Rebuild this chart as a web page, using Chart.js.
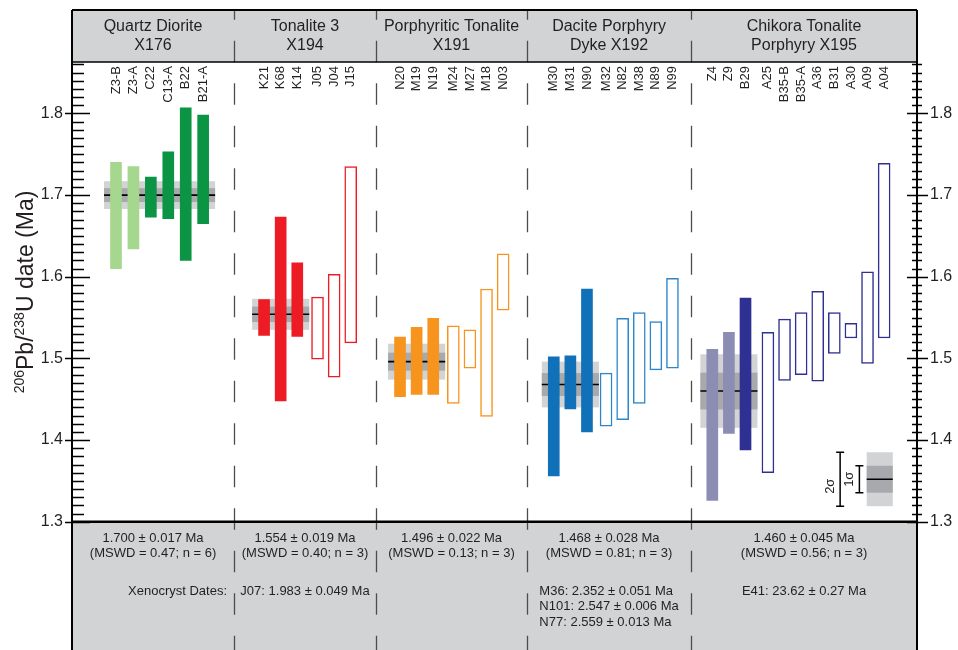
<!DOCTYPE html>
<html>
<head>
<meta charset="utf-8">
<script src="https://cdn.jsdelivr.net/npm/chart.js@4.4.1/dist/chart.umd.min.js"></script>
<style>
  html, body { margin: 0; padding: 0; background: #fff; }
  #wrap { width: 958px; height: 650px; }
</style>
</head>
<body>
<div id="wrap"><canvas id="c" width="958" height="650"></canvas></div>
<script>
// Zircon 206Pb/238U dates (Ma) by sample, with weighted means and xenocrysts

const panelTitles = [
  ['Quartz Diorite', 'X176'],
  ['Tonalite 3', 'X194'],
  ['Porphyritic Tonalite', 'X191'],
  ['Dacite Porphyry', 'Dyke X192'],
  ['Chikora Tonalite', 'Porphyry X195']
];

const grainLabels = [
  ['Z3-B', 'Z3-A', 'C22', 'C13-A', 'B22', 'B21-A'],
  ['K21', 'K68', 'K14', 'J05', 'J04', 'J15'],
  ['N20', 'M19', 'N19', 'M24', 'M27', 'M18', 'N03'],
  ['M30', 'M31', 'N90', 'M32', 'N82', 'M38', 'N89', 'N99'],
  ['Z4', 'Z9', 'B29', 'A25', 'B35-B', 'B35-A', 'A36', 'B31', 'A30', 'A09', 'A04']
];

// lower and upper ends of each 2-sigma date bar
const grainLow = [
  [1.610, 1.634, 1.673, 1.671, 1.620, 1.665],
  [1.528, 1.448, 1.527, 1.499, 1.477, 1.519],
  [1.453, 1.456, 1.456, 1.445, 1.488, 1.429, 1.559],
  [1.356, 1.438, 1.410, 1.417, 1.425, 1.445, 1.486, 1.488],
  [1.326, 1.408, 1.388, 1.360, 1.473, 1.480, 1.472, 1.506, 1.525, 1.494, 1.525]
];
const grainHigh = [
  [1.740, 1.735, 1.722, 1.753, 1.807, 1.798],
  [1.572, 1.673, 1.617, 1.575, 1.603, 1.735],
  [1.526, 1.538, 1.549, 1.540, 1.535, 1.585, 1.628],
  [1.502, 1.503, 1.585, 1.482, 1.549, 1.556, 1.545, 1.598],
  [1.511, 1.532, 1.574, 1.532, 1.548, 1.556, 1.582, 1.556, 1.543, 1.606, 1.739]
];

// A = used in weighted mean, B = used in weighted mean (second shade), C = not used
const grainKind = [
  ['B', 'B', 'A', 'A', 'A', 'A'],
  ['A', 'A', 'A', 'C', 'C', 'C'],
  ['A', 'A', 'A', 'C', 'C', 'C', 'C'],
  ['A', 'A', 'A', 'C', 'C', 'C', 'C', 'C'],
  ['B', 'B', 'A', 'C', 'C', 'C', 'C', 'C', 'C', 'C', 'C']
];

const meanAge = [1.700, 1.554, 1.496, 1.468, 1.460];
const meanErr2s = [0.017, 0.019, 0.022, 0.028, 0.045];
const meanMswd = [0.47, 0.40, 0.13, 0.81, 0.56];
const meanN = [6, 3, 3, 3, 3];

const xenoNames = [[], ['J07'], [], ['M36', 'N101', 'N77'], ['E41']];
const xenoAges = [[], [1.983], [], [2.352, 2.547, 2.559], [23.62]];
const xenoErrs = [[], [0.049], [], [0.051, 0.006, 0.013], [0.27]];

const yTicks = [1.3, 1.4, 1.5, 1.6, 1.7, 1.8];

// error key in the lower right corner
const keyAge = 1.352;
const keyErr2s = 0.033;

// ---- layout and styling ----
const FONT = '"Liberation Sans", Arial, Helvetica, sans-serif';
const INK = '#231f20';
const PANEL_GREY = '#d1d3d4';
const BAND_2S = '#d1d3d4';
const BAND_1S = '#a7a9ac';

const panelColors = [
  { A: '#0b9444', B: '#a6d78e', C: '#0b9444' },
  { A: '#ed1c24', B: '#ed1c24', C: '#ed1c24' },
  { A: '#f7941d', B: '#f7941d', C: '#f7941d' },
  { A: '#1070b8', B: '#1070b8', C: '#2b86cc' },
  { A: '#2e3192', B: '#8b8db3', C: '#2e3192' }
];

const LAYOUT = {
  xMax: 50.9,
  yMin: 1.3,
  yMax: 1.863,
  headerTop: 10,
  panelEdges: [0, 9.76, 18.31, 27.41, 37.29, 50.9],
  firstSlot: [2.65, 11.57, 19.76, 29.02, 38.57],
  slotStep: [1.05, 1, 1, 1, 1],
  openGap: [0, 0.22, 0.21, 0.15, 0.35],
  bandPad: 0.72,
  key: { boxL: 47.87, boxR: 49.44, bar2: 46.27, bar1: 47.43, lab2: 45.69, lab1: 46.81 }
};

function slotOf(p, j) {
  let s = LAYOUT.firstSlot[p] + j * LAYOUT.slotStep[p];
  if (grainKind[p][j] === 'C') s += LAYOUT.openGap[p];
  return s;
}

const filledPts = [], filledCols = [], openPts = [], openCols = [];
grainLabels.forEach((labels, p) => {
  labels.forEach((lab, j) => {
    const pt = { x: slotOf(p, j), y: [grainLow[p][j], grainHigh[p][j]] };
    const k = grainKind[p][j];
    if (k === 'C') { openPts.push(pt); openCols.push(panelColors[p].C); }
    else { filledPts.push(pt); filledCols.push(panelColors[p][k]); }
  });
});

function fontPx(size) { return size + 'px ' + FONT; }

const figurePlugin = {
  id: 'figureFrame',
  beforeDraw(chart) {
    const { ctx, chartArea: a, width, height } = chart;
    const xs = chart.scales.x;
    ctx.save();
    ctx.fillStyle = '#fff';
    ctx.fillRect(0, 0, width, height);
    // header and footer strips
    ctx.fillStyle = PANEL_GREY;
    ctx.fillRect(a.left, LAYOUT.headerTop, a.right - a.left, a.top - LAYOUT.headerTop);
    ctx.fillRect(a.left, a.bottom, a.right - a.left, height - a.bottom);
    // dashed separators between samples
    ctx.strokeStyle = '#4d4d4d';
    ctx.lineWidth = 1.3;
    ctx.setLineDash([21.5, 21]);
    ctx.lineDashOffset = LAYOUT.headerTop + 1.7;
    for (let i = 1; i < LAYOUT.panelEdges.length - 1; i++) {
      const x = Math.round(xs.getPixelForValue(LAYOUT.panelEdges[i])) + 0.5;
      ctx.beginPath();
      ctx.moveTo(x, LAYOUT.headerTop);
      ctx.lineTo(x, height);
      ctx.stroke();
    }
    ctx.restore();
  },
  beforeDatasetsDraw(chart) {
    const { ctx } = chart;
    const xs = chart.scales.x, ys = chart.scales.y;
    ctx.save();
    meanAge.forEach((age, p) => {
      const slots = grainKind[p].map((k, j) => k === 'C' ? null : slotOf(p, j)).filter(s => s !== null);
      const x0 = xs.getPixelForValue(Math.min(...slots) - LAYOUT.bandPad);
      const x1 = xs.getPixelForValue(Math.max(...slots) + LAYOUT.bandPad);
      const e = meanErr2s[p];
      ctx.fillStyle = BAND_2S;
      const t2 = ys.getPixelForValue(age + e), b2 = ys.getPixelForValue(age - e);
      ctx.fillRect(x0, t2, x1 - x0, b2 - t2);
      ctx.fillStyle = BAND_1S;
      const t1 = ys.getPixelForValue(age + e / 2), b1 = ys.getPixelForValue(age - e / 2);
      ctx.fillRect(x0, t1, x1 - x0, b1 - t1);
      ctx.strokeStyle = '#000';
      ctx.lineWidth = 1.6;
      const ym = ys.getPixelForValue(age);
      ctx.beginPath();
      ctx.moveTo(x0, ym);
      ctx.lineTo(x1, ym);
      ctx.stroke();
    });
    ctx.restore();
  },
  afterDraw(chart) {
    const { ctx, chartArea: a, height } = chart;
    const xs = chart.scales.x, ys = chart.scales.y;
    const E = LAYOUT.panelEdges;
    const centerOf = p => xs.getPixelForValue((E[p] + E[p + 1]) / 2);
    ctx.save();

    // frame
    ctx.strokeStyle = '#000';
    ctx.lineWidth = 2;
    ctx.beginPath();
    ctx.moveTo(a.left, LAYOUT.headerTop); ctx.lineTo(a.right, LAYOUT.headerTop);
    ctx.moveTo(a.left, LAYOUT.headerTop); ctx.lineTo(a.left, height);
    ctx.moveTo(a.right, LAYOUT.headerTop); ctx.lineTo(a.right, height);
    ctx.stroke();
    ctx.lineWidth = 1.5;
    ctx.beginPath();
    ctx.moveTo(a.left, a.top); ctx.lineTo(a.right, a.top);
    ctx.stroke();
    ctx.lineWidth = 2.6;
    ctx.beginPath();
    ctx.moveTo(a.left, a.bottom); ctx.lineTo(a.right, a.bottom);
    ctx.stroke();

    // tick marks, every 0.01 with longer marks every 0.1
    ctx.lineWidth = 1.3;
    ctx.beginPath();
    for (let i = Math.round(LAYOUT.yMin * 100); i <= Math.floor(LAYOUT.yMax * 100); i++) {
      const y = Math.round(ys.getPixelForValue(i / 100)) + 0.5;
      const major = i % 10 === 0;
      if (major) {
        ctx.moveTo(a.left - 7, y); ctx.lineTo(a.left + 18, y);
        ctx.moveTo(a.right - 10, y); ctx.lineTo(a.right + 11, y);
      } else {
        ctx.moveTo(a.left, y); ctx.lineTo(a.left + 12, y);
        ctx.moveTo(a.right - 5, y); ctx.lineTo(a.right + 5, y);
      }
    }
    ctx.stroke();

    // sample titles
    ctx.fillStyle = INK;
    ctx.font = fontPx(16);
    ctx.textAlign = 'center';
    ctx.textBaseline = 'alphabetic';
    panelTitles.forEach((lines, p) => {
      const cx = centerOf(p);
      ctx.fillText(lines[0], cx, 31);
      ctx.fillText(lines[1], cx, 50);
    });

    // grain labels
    ctx.font = fontPx(13);
    grainLabels.forEach((labels, p) => {
      labels.forEach((lab, j) => {
        const x = xs.getPixelForValue(slotOf(p, j));
        ctx.save();
        ctx.translate(x, a.top + 4);
        ctx.rotate(-Math.PI / 2);
        ctx.textAlign = 'right';
        ctx.textBaseline = 'middle';
        ctx.fillText(lab, 0, 0);
        ctx.restore();
      });
    });

    // weighted mean summaries
    ctx.font = fontPx(13);
    ctx.textBaseline = 'middle';
    ctx.textAlign = 'center';
    meanAge.forEach((age, p) => {
      const cx = centerOf(p);
      ctx.fillText(age.toFixed(3) + ' \u00b1 ' + meanErr2s[p].toFixed(3) + ' Ma', cx, a.bottom + 16.5);
      ctx.fillText('(MSWD = ' + meanMswd[p].toFixed(2) + '; n = ' + meanN[p] + ')', cx, a.bottom + 31.5);
    });

    // xenocryst dates
    ctx.textAlign = 'right';
    ctx.fillText('Xenocryst Dates:', xs.getPixelForValue(E[1]) - 7, a.bottom + 69.5);
    ctx.textAlign = 'left';
    xenoNames.forEach((names, p) => {
      if (!names.length) return;
      const lines = names.map((n, i) => {
        const ageTxt = xenoAges[p][i].toPrecision(4);
        const dec = (ageTxt.split('.')[1] || '').length;
        return n + ': ' + ageTxt + ' \u00b1 ' + xenoErrs[p][i].toFixed(dec) + ' Ma';
      });
      const w = Math.max(...lines.map(l => ctx.measureText(l).width));
      const x0 = centerOf(p) - w / 2;
      lines.forEach((l, i) => ctx.fillText(l, x0, a.bottom + 69.5 + i * 15.5));
    });

    // y-axis title with superscript mass numbers
    ctx.save();
    ctx.translate(33, 292);
    ctx.rotate(-Math.PI / 2);
    const parts = [['206', true], ['Pb/', false], ['238', true], ['U date (Ma)', false]];
    const mainF = fontPx(23), supF = fontPx(14);
    let total = 0;
    const widths = parts.map(([t, sup]) => { ctx.font = sup ? supF : mainF; const w = ctx.measureText(t).width; total += w; return w; });
    let tx = -total / 2;
    ctx.textAlign = 'left';
    ctx.textBaseline = 'alphabetic';
    parts.forEach(([t, sup], i) => {
      ctx.font = sup ? supF : mainF;
      ctx.fillText(t, tx, sup ? -9 : 0);
      tx += widths[i];
    });
    ctx.restore();

    // error key
    const K = LAYOUT.key;
    const kl = xs.getPixelForValue(K.boxL), kr = xs.getPixelForValue(K.boxR);
    const y2t = ys.getPixelForValue(keyAge + keyErr2s), y2b = ys.getPixelForValue(keyAge - keyErr2s);
    const y1t = ys.getPixelForValue(keyAge + keyErr2s / 2), y1b = ys.getPixelForValue(keyAge - keyErr2s / 2);
    const ym = ys.getPixelForValue(keyAge);
    ctx.fillStyle = BAND_2S;
    ctx.fillRect(kl, y2t, kr - kl, y2b - y2t);
    ctx.fillStyle = BAND_1S;
    ctx.fillRect(kl, y1t, kr - kl, y1b - y1t);
    ctx.strokeStyle = '#000';
    ctx.lineWidth = 1.5;
    ctx.beginPath();
    ctx.moveTo(kl, ym); ctx.lineTo(kr, ym);
    const bar = (x, t, b) => {
      ctx.moveTo(x, t); ctx.lineTo(x, b);
      ctx.moveTo(x - 4, t); ctx.lineTo(x + 4, t);
      ctx.moveTo(x - 4, b); ctx.lineTo(x + 4, b);
    };
    bar(xs.getPixelForValue(K.bar2), y2t, y2b);
    bar(xs.getPixelForValue(K.bar1), y1t, y1b);
    ctx.stroke();
    ctx.fillStyle = INK;
    ctx.font = fontPx(13);
    ctx.textAlign = 'center';
    ctx.textBaseline = 'middle';
    [[K.lab2, '2\u03c3', (y2t + y2b) / 2 + 7], [K.lab1, '1\u03c3', ym]].forEach(([u, t, yc]) => {
      ctx.save();
      ctx.translate(xs.getPixelForValue(u), yc);
      ctx.rotate(-Math.PI / 2);
      ctx.fillText(t, 0, 0);
      ctx.restore();
    });

    ctx.restore();
  }
};

const tickFont = { family: FONT, size: 16 };
const yAxis = (position, width, padding) => ({
  type: 'linear',
  position,
  min: LAYOUT.yMin,
  max: LAYOUT.yMax,
  afterFit: s => { s.width = width; },
  afterBuildTicks: s => { s.ticks = yTicks.map(v => ({ value: v })); },
  grid: { display: false, drawTicks: false },
  border: { display: false },
  ticks: { padding, font: tickFont, color: INK, callback: v => Number(v).toFixed(1) }
});

new Chart(document.getElementById('c'), {
  type: 'bar',
  data: {
    datasets: [
      {
        label: 'Weighted mean grains',
        data: filledPts,
        backgroundColor: filledCols,
        borderWidth: 0,
        grouped: false,
        barPercentage: 1,
        categoryPercentage: 1,
        maxBarThickness: 11
      },
      {
        label: 'Excluded grains',
        data: openPts,
        backgroundColor: '#ffffff',
        borderColor: openCols,
        borderWidth: 1.5,
        borderSkipped: false,
        grouped: false,
        barPercentage: 1,
        categoryPercentage: 1,
        maxBarThickness: 12
      }
    ]
  },
  options: {
    responsive: false,
    animation: false,
    layout: { padding: { top: 62, bottom: 128.3, left: 0, right: 0 } },
    plugins: { legend: { display: false }, tooltip: { enabled: false }, title: { display: false } },
    scales: {
      x: { type: 'linear', min: 0, max: LAYOUT.xMax, display: false, offset: false },
      y: yAxis('left', 72, 9),
      y2: yAxis('right', 41, 13)
    }
  },
  plugins: [figurePlugin]
});
</script>
</body>
</html>
